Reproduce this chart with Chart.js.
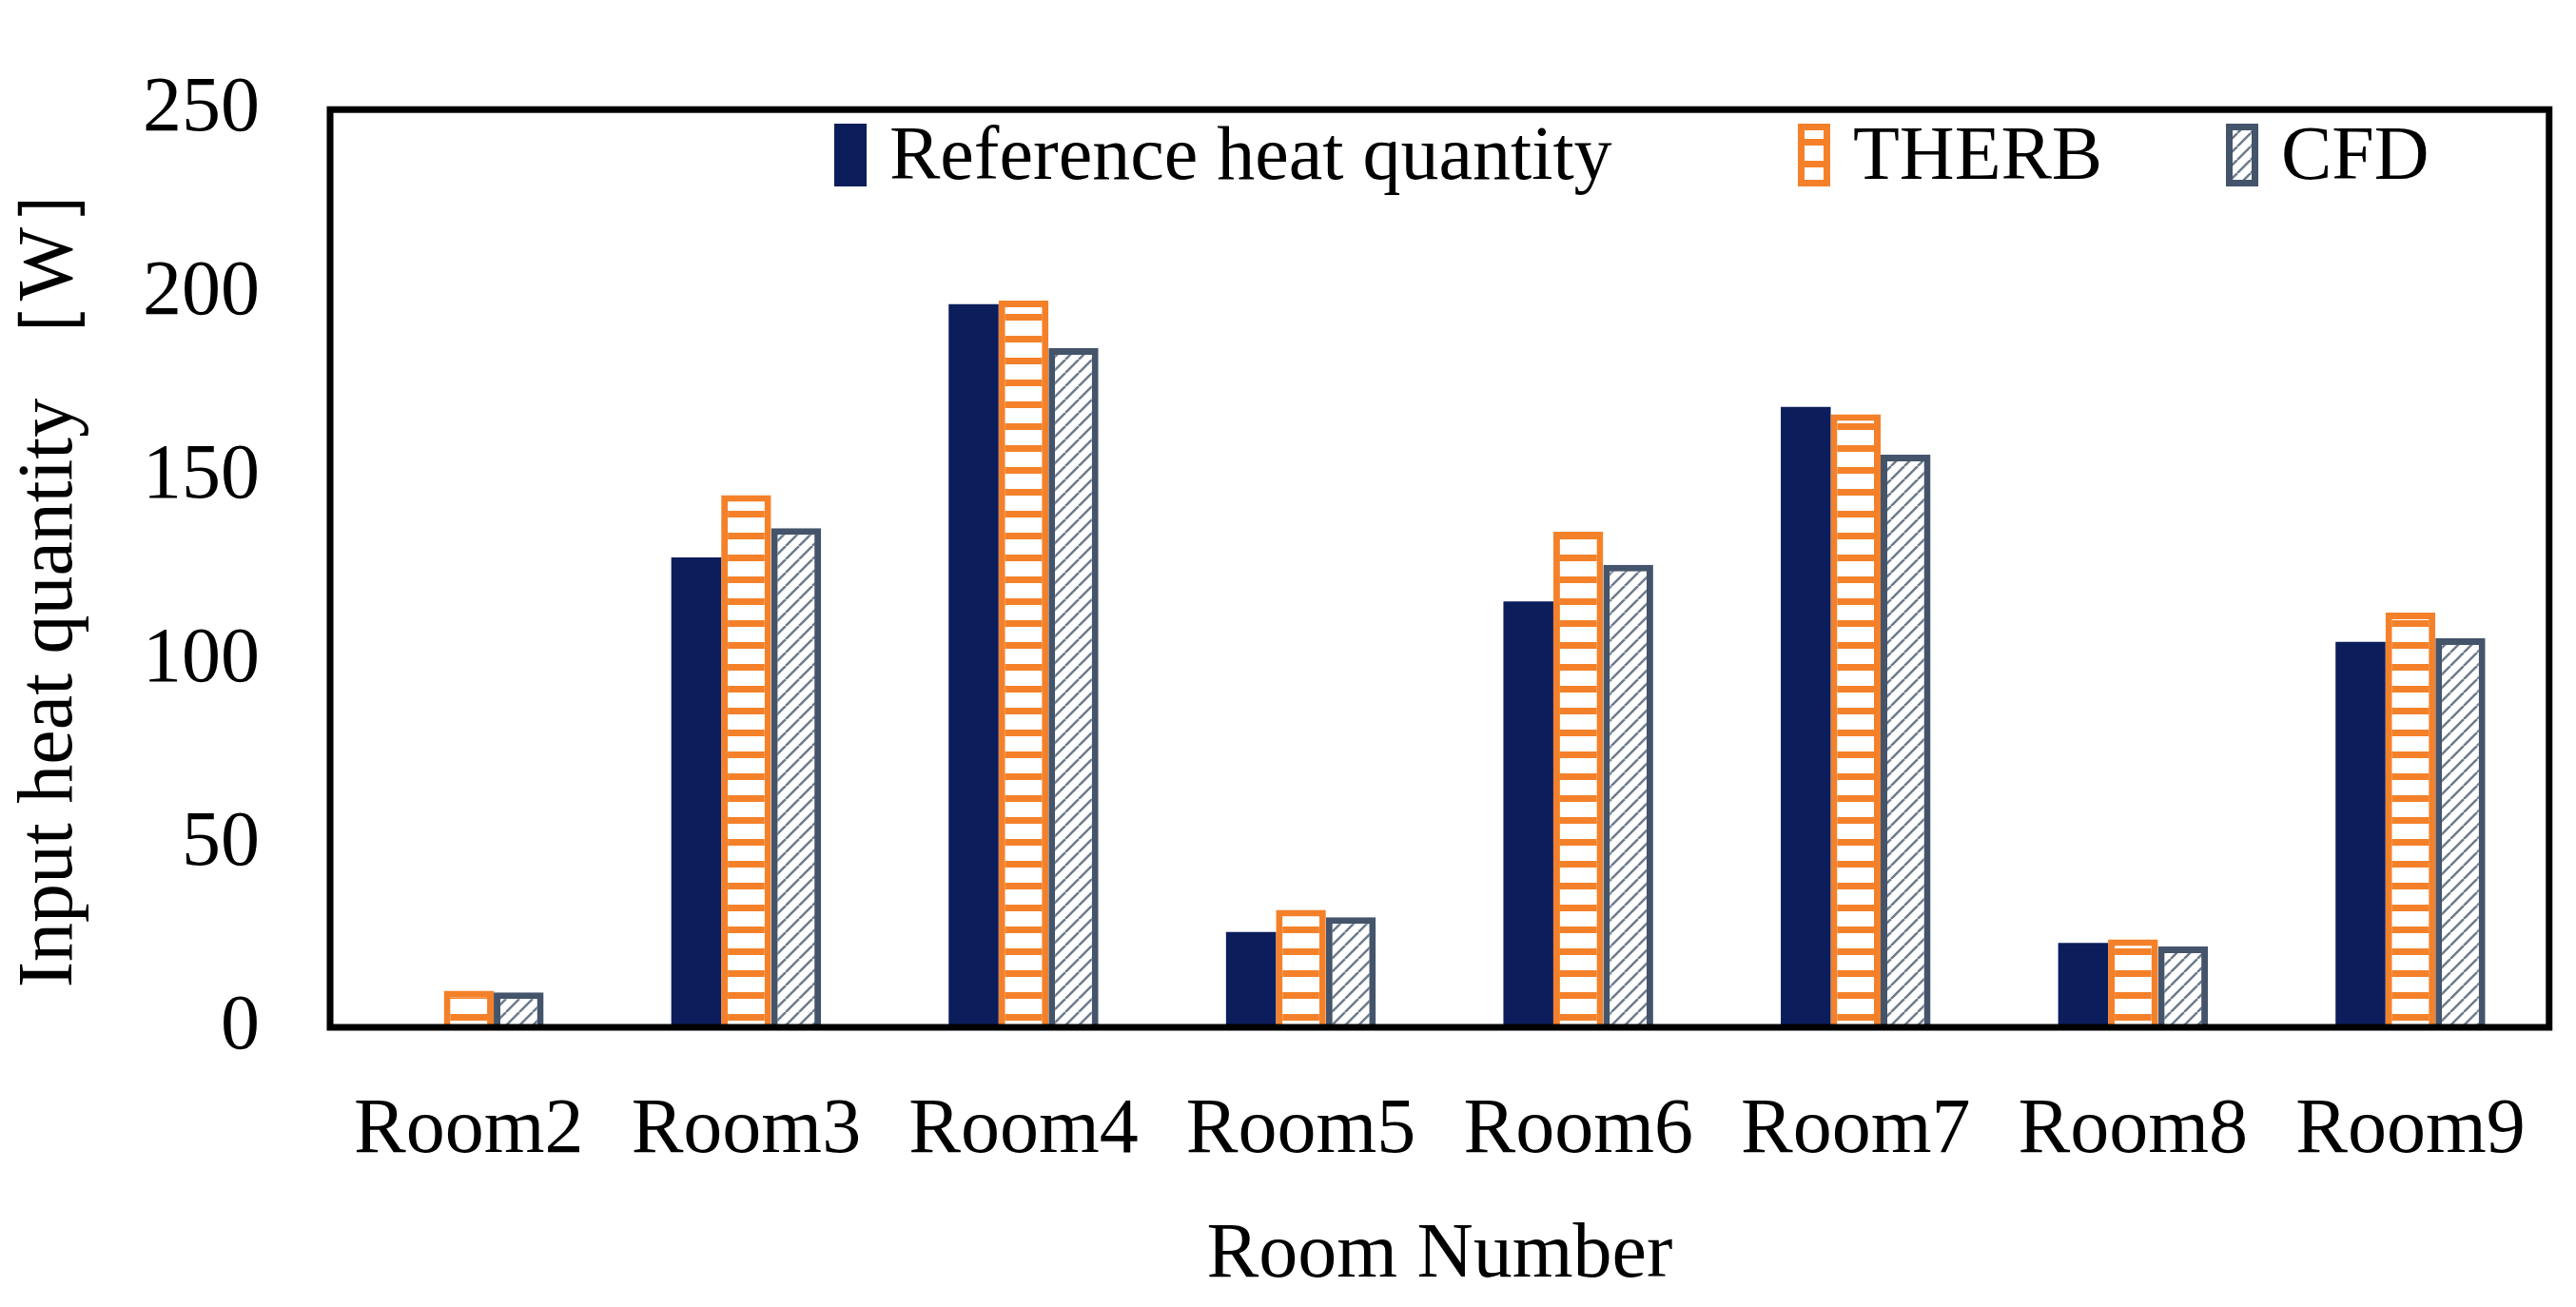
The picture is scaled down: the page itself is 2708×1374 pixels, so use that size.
<!DOCTYPE html>
<html><head><meta charset="utf-8">
<script src="https://cdn.jsdelivr.net/npm/chart.js@4"></script>
<style>html,body{margin:0;padding:0;background:#fff}#wrap{width:2708px;height:1374px}</style>
</head><body><div id="wrap"><canvas id="c" width="2708" height="1374"></canvas></div>
<script>
const categories = ["Room2","Room3","Room4","Room5","Room6","Room7","Room8","Room9"];
const referenceHeat = [0,128,197,26,116,169,23,105];
const therb = [10,145,198,32,135,167,24,113];
const cfd = [9.5,136,185,30,126,156,22,106];
const yTicks = [0,50,100,150,200,250];
const seriesNames = ["Reference heat quantity","THERB","CFD"];

function hPattern(){const c=document.createElement('canvas');c.width=20;c.height=23;const x=c.getContext('2d');x.fillStyle='#fff';x.fillRect(0,0,20,23);x.fillStyle='#F4812A';x.fillRect(0,8,20,7);return x.createPattern(c,'repeat');}
function dPattern(){const c=document.createElement('canvas');c.width=14;c.height=14;const x=c.getContext('2d');x.fillStyle='#fff';x.fillRect(0,0,14,14);x.strokeStyle='#6E7B8C';x.lineWidth=2.5;x.beginPath();for(let k=-14;k<=28;k+=14){x.moveTo(k,14);x.lineTo(k+14,0);}x.stroke();return x.createPattern(c,'repeat');}
const pats=[ '#0C1D5C', hPattern(), dPattern() ];
const borders=['#0C1D5C','#F4812A','#44546A'];
const F='"Liberation Serif","Times New Roman",serif';

const frame={id:'frame',afterDraw(ch){const a=ch.chartArea,x=ch.ctx;x.save();x.strokeStyle='#000';x.lineWidth=7;x.strokeRect(a.left,a.top,a.right-a.left,a.bottom-a.top);
x.font='80px '+F;x.textBaseline='middle';const y=163;
const items=[[877,seriesNames[0]],[1890,seriesNames[1]],[2340,seriesNames[2]]];
items.forEach((it,i)=>{const bx=it[0],bw=34,bh=66;x.fillStyle=pats[i];x.fillRect(bx,y-bh/2,bw,bh);if(i>0){x.strokeStyle=borders[i];x.lineWidth=7;x.strokeRect(bx+3.5,y-bh/2+3.5,bw-7,bh-7);}x.fillStyle='#000';x.fillText(it[1],bx+58,y+4);});
x.restore();}};

new Chart(document.getElementById('c'),{type:'bar',
data:{labels:categories,datasets:[referenceHeat,therb,cfd].map((d,i)=>({label:seriesNames[i],data:d,backgroundColor:pats[i],borderColor:borders[i],borderWidth:i?7:0,borderSkipped:'bottom'}))},
options:{responsive:false,animation:false,devicePixelRatio:1,
layout:{padding:{top:27,right:21,left:0,bottom:0}},
plugins:{legend:{display:false},tooltip:{enabled:false}},
datasets:{bar:{categoryPercentage:0.54,barPercentage:1}},
scales:{
x:{grid:{display:false},border:{display:false},ticks:{color:'#000',font:{family:F,size:82},padding:52,maxRotation:0},
 title:{display:true,text:'Room Number',color:'#000',font:{family:F,size:82},padding:{top:16}},
 afterFit(s){s.height=294;}},
y:{min:0,max:250,grid:{display:false},border:{display:false},
 afterBuildTicks(s){s.ticks=yTicks.map(v=>({value:v}));},
 ticks:{color:'#000',font:{family:F,size:82},padding:66},
 title:{display:true,text:'Input heat quantity ［W］',color:'#000',font:{family:F,size:82},padding:{bottom:10}},
 afterFit(s){s.width=347;}}
}},plugins:[frame]});
</script></body></html>
